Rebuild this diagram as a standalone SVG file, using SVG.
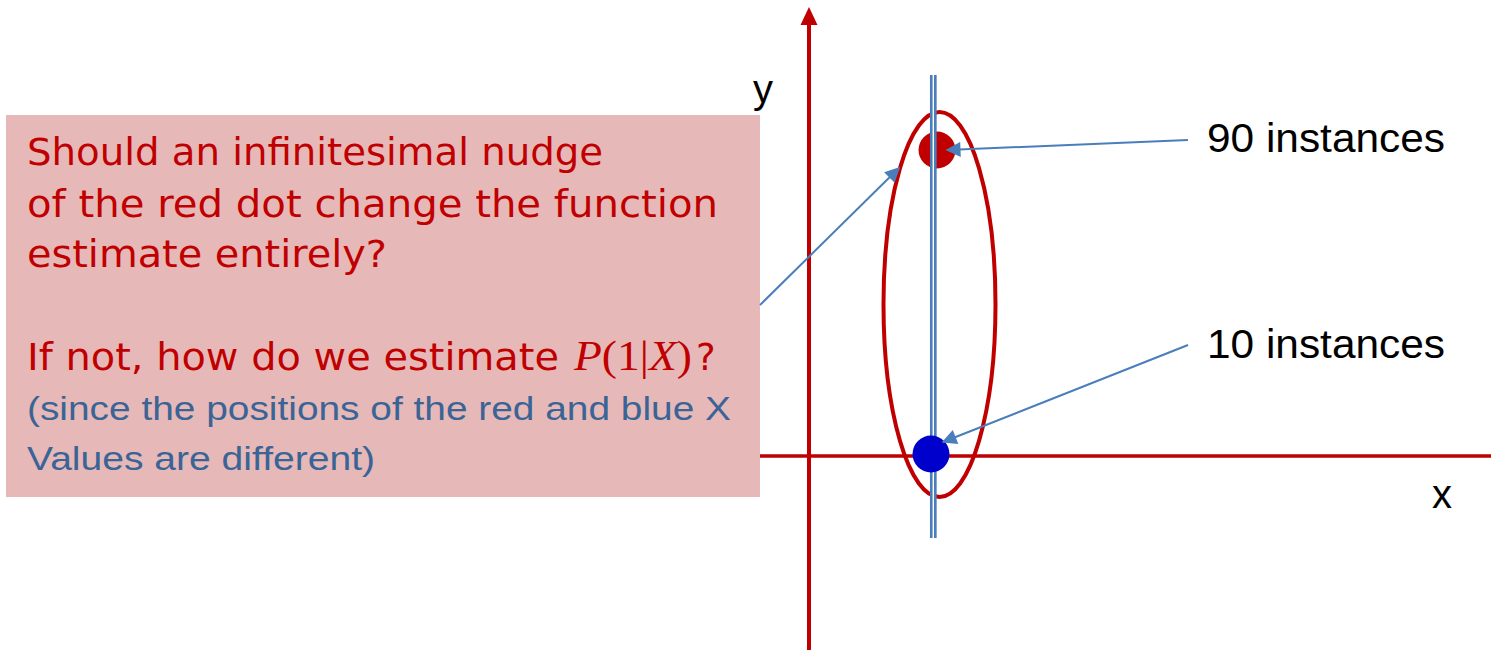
<svg xmlns="http://www.w3.org/2000/svg" width="1491" height="650" viewBox="0 0 1491 650">
<style>
.axis{stroke:#C00000;stroke-width:4;fill:none}
.conn{stroke:#4A7EBB;stroke-width:2;fill:none;marker-end:url(#ah)}
.lbl{font-family:"Liberation Sans",Arial,sans-serif;font-size:40px;fill:#000}
.q{font-family:"DejaVu Sans","Noto Sans",sans-serif;font-size:37px;fill:#C00000}
.b{font-family:"Liberation Sans",Arial,sans-serif;font-size:34px;fill:#3B6496}
.m{font-family:"Liberation Serif","Times New Roman",serif;font-size:42px;fill:#C00000}
</style>
<defs>
<marker id="ah" viewBox="0 0 10 10" refX="9" refY="5" markerWidth="9.5" markerHeight="7.5" markerUnits="strokeWidth" orient="auto">
<path d="M0,0 L10,5 L0,10 z" fill="#4A7EBB"/>
</marker>
</defs>
<g id="axes">
<line class="axis" x1="809" y1="650" x2="809" y2="22"/>
<polygon points="809,7 800.5,25 817.5,25" fill="#C00000"/>
<line class="axis" x1="760" y1="456" x2="1491" y2="456" style="stroke-width:3.5"/>
<text class="lbl" x="753" y="103">y</text>
<text class="lbl" x="1432" y="508">x</text>
</g>
<g id="ellipse">
<ellipse cx="939.5" cy="304.5" rx="56" ry="192.5" fill="none" stroke="#C00000" stroke-width="4"/>
</g>
<g id="red-dot">
<circle cx="937" cy="150" r="18.5" fill="#C00000"/>
</g>
<g id="vline">
<line x1="933.3" y1="75" x2="933.3" y2="538" stroke="#4A7EBB" stroke-width="6.7"/>
<line x1="933.3" y1="75" x2="933.3" y2="538" stroke="#FFFFFF" stroke-width="1.4"/>
</g>
<g id="blue-dot">
<circle cx="931" cy="454" r="18.5" fill="#0000CC"/>
</g>
<g id="box">
<rect x="6" y="115" width="754" height="382" fill="#E6B9B8"/>
<text class="q" x="27" y="165" textLength="576" lengthAdjust="spacingAndGlyphs">Should an infinitesimal nudge</text>
<text class="q" x="27" y="217" textLength="691" lengthAdjust="spacingAndGlyphs">of the red dot change the function</text>
<text class="q" x="27" y="267" textLength="360" lengthAdjust="spacingAndGlyphs">estimate entirely?</text>
<text class="q" x="27" y="370" textLength="532" lengthAdjust="spacingAndGlyphs">If not, how do we estimate</text>
<text class="m" x="574" y="370" textLength="118" lengthAdjust="spacingAndGlyphs"><tspan font-style="italic">P</tspan>(1|<tspan font-style="italic">X</tspan>)</text>
<text class="q" x="696" y="370">?</text>
<text class="b" x="27" y="420" textLength="704" lengthAdjust="spacingAndGlyphs">(since the positions of the red and blue X</text>
<text class="b" x="27" y="470" textLength="348" lengthAdjust="spacingAndGlyphs">Values are different)</text>
</g>
<g id="label-90">
<text class="lbl" x="1207" y="152" textLength="238" lengthAdjust="spacingAndGlyphs">90 instances</text>
</g>
<g id="label-10">
<text class="lbl" x="1207" y="358" textLength="238" lengthAdjust="spacingAndGlyphs">10 instances</text>
</g>
<g id="connectors">
<line class="conn" x1="1188" y1="140" x2="947" y2="150"/>
<line class="conn" x1="1188" y1="345" x2="943" y2="442"/>
<line class="conn" x1="760" y1="305" x2="899" y2="168"/>
</g>
</svg>
